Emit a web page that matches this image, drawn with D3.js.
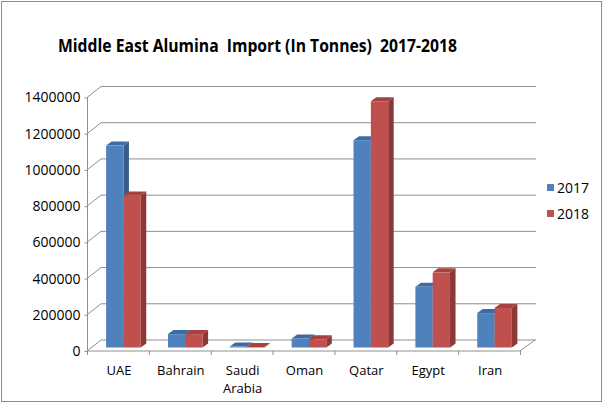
<!DOCTYPE html>
<html>
<head>
<meta charset="utf-8">
<script src="https://cdn.jsdelivr.net/npm/d3@7"></script>
<style>
  body { margin: 0; background: #fff; }
  svg text { font-family: "Open Sans", "DejaVu Sans", sans-serif; fill: #000; }
</style>
</head>
<body>
<svg id="chart"></svg>
<script>
// data
var categories = ["UAE", "Bahrain", "Saudi Arabia", "Oman", "Qatar", "Egypt", "Iran"];
var seriesNames = ["2017", "2018"];
var values2017 = [1115000, 74000, 5000, 50000, 1145000, 335000, 190000];
var values2018 = [840000, 74000, 3000, 45000, 1360000, 415000, 218000];
var yTicks = [0, 200000, 400000, 600000, 800000, 1000000, 1200000, 1400000];

var width = 604, height = 406;
var depthX = 14, depthY = -11;   // floor depth (front -> back wall)
var barDX = 5.5, barDY = -4;     // bar depth
var colors = {
  "2017": { front: "#4F81BD", side: "#385D8A", top: "#3E6BA3" },
  "2018": { front: "#C0504D", side: "#8C3836", top: "#A5423F" }
};

var svg = d3.select("#chart").attr("width", width).attr("height", height);

// frame
svg.append("rect")
  .attr("x", 1.5).attr("y", 1.5)
  .attr("width", 600).attr("height", 400)
  .attr("fill", "#fff").attr("stroke", "#8c8c8c").attr("stroke-width", 1);

// title
svg.append("text")
  .attr("x", 257.5).attr("y", 52)
  .attr("text-anchor", "middle")
  .attr("font-size", "18.5px").attr("font-weight", "bold")
  .attr("textLength", 399).attr("lengthAdjust", "spacingAndGlyphs")
  .attr("xml:space", "preserve")
  .text("Middle East Alumina  Import (In Tonnes)  2017-2018");

// scales: front axis, back wall, bar plane
var yFront = d3.scaleLinear().domain([0, 1400000]).range([351, 97.5]);
var yBack = d3.scaleLinear().domain([0, 1400000]).range([351 + depthY, 97.5 + depthY]);
var yBar = d3.scaleLinear().domain([0, 1400000]).range([347.5, 347.5 - 253.5]);

var x0 = d3.scaleBand().domain(categories).range([87, 520]);
var bw = x0.bandwidth();
var x1 = d3.scaleBand().domain(seriesNames)
  .range([bw / 2 - bw * 0.28, bw / 2 + bw * 0.28]);

var gridColor = "#8f8f8f";

// back wall gridlines + left wall diagonals
var grid = svg.append("g");
yTicks.forEach(function(t) {
  grid.append("line")
    .attr("x1", 87 + depthX).attr("x2", 520 + depthX + 2)
    .attr("y1", yBack(t)).attr("y2", yBack(t))
    .attr("stroke", gridColor).attr("stroke-width", 1);
  grid.append("line")
    .attr("x1", 87).attr("y1", yFront(t))
    .attr("x2", 87 + depthX).attr("y2", yBack(t))
    .attr("stroke", gridColor).attr("stroke-width", 1);
});

// floor front edge and right edge
grid.append("line")
  .attr("x1", 87).attr("x2", 520).attr("y1", yFront(0)).attr("y2", yFront(0))
  .attr("stroke", gridColor);
grid.append("line")
  .attr("x1", 520).attr("y1", yFront(0))
  .attr("x2", 520 + depthX + 1).attr("y2", yBack(0))
  .attr("stroke", gridColor);

// y axis (front)
var yAxis = d3.axisLeft(yFront).tickValues(yTicks).tickSize(3).tickPadding(4)
  .tickFormat(d3.format("d"));
var gy = svg.append("g").attr("transform", "translate(87.5,0)").call(yAxis);
gy.select(".domain").attr("stroke", gridColor).attr("d", "M0," + yFront(1400000) + "V" + (yFront(0) + 4));
gy.selectAll(".tick line").attr("stroke", gridColor);
gy.selectAll(".tick text").attr("font-size", "14px").attr("font-family", null).attr("fill", "#000");

// category ticks
svg.append("g").selectAll("line")
  .data(categories.concat(["end"]))
  .enter().append("line")
  .attr("x1", function(d, i) { return 87.5 + i * bw; })
  .attr("x2", function(d, i) { return 87.5 + i * bw; })
  .attr("y1", yFront(0)).attr("y2", yFront(0) + 4)
  .attr("stroke", gridColor);

// category labels
var labels = svg.append("g").selectAll("text")
  .data(categories)
  .enter().append("text")
  .attr("x", function(d) { return x0(d) + bw / 2 + 1; })
  .attr("y", 375)
  .attr("text-anchor", "middle")
  .attr("font-size", "13px");
labels.each(function(d) {
  var parts = d.split(" ");
  var t = d3.select(this);
  parts.forEach(function(p, i) {
    t.append("tspan")
      .attr("x", x0(d) + bw / 2 + 1)
      .attr("dy", i === 0 ? 0 : 18)
      .text(p);
  });
});

// bars
var barData = [];
categories.forEach(function(c, i) {
  barData.push({ cat: c, s: "2017", v: values2017[i] });
  barData.push({ cat: c, s: "2018", v: values2018[i] });
});
var bw1 = x1.bandwidth();
var bars = svg.append("g").selectAll("g.bar")
  .data(barData)
  .enter().append("g").attr("class", "bar");

bars.each(function(d) {
  var g = d3.select(this);
  var xl = x0(d.cat) + x1(d.s) + barDX;
  var xr = xl + bw1;
  var yb = yBar(0);
  var yt = yBar(d.v);
  var c = colors[d.s];
  // side
  g.append("path")
    .attr("d", "M" + xr + "," + yb + "L" + (xr + barDX) + "," + (yb + barDY) +
      "L" + (xr + barDX) + "," + (yt + barDY) + "L" + xr + "," + yt + "Z")
    .attr("fill", c.side);
  // top
  g.append("path")
    .attr("d", "M" + xl + "," + yt + "L" + xr + "," + yt +
      "L" + (xr + barDX) + "," + (yt + barDY) + "L" + (xl + barDX) + "," + (yt + barDY) + "Z")
    .attr("fill", c.top);
  // front
  g.append("rect")
    .attr("x", xl).attr("y", yt)
    .attr("width", bw1).attr("height", Math.max(0, yb - yt))
    .attr("fill", c.front);
});

// legend
var legend = svg.append("g").selectAll("g")
  .data(seriesNames)
  .enter().append("g")
  .attr("transform", function(d, i) { return "translate(547," + (184 + i * 26) + ")"; });
legend.append("rect")
  .attr("width", 7).attr("height", 7)
  .attr("fill", function(d) { return colors[d].front; });
legend.append("text")
  .attr("x", 10).attr("y", 4).attr("dy", "0.35em")
  .attr("font-size", "14px")
  .text(function(d) { return d; });
</script>
</body>
</html>
